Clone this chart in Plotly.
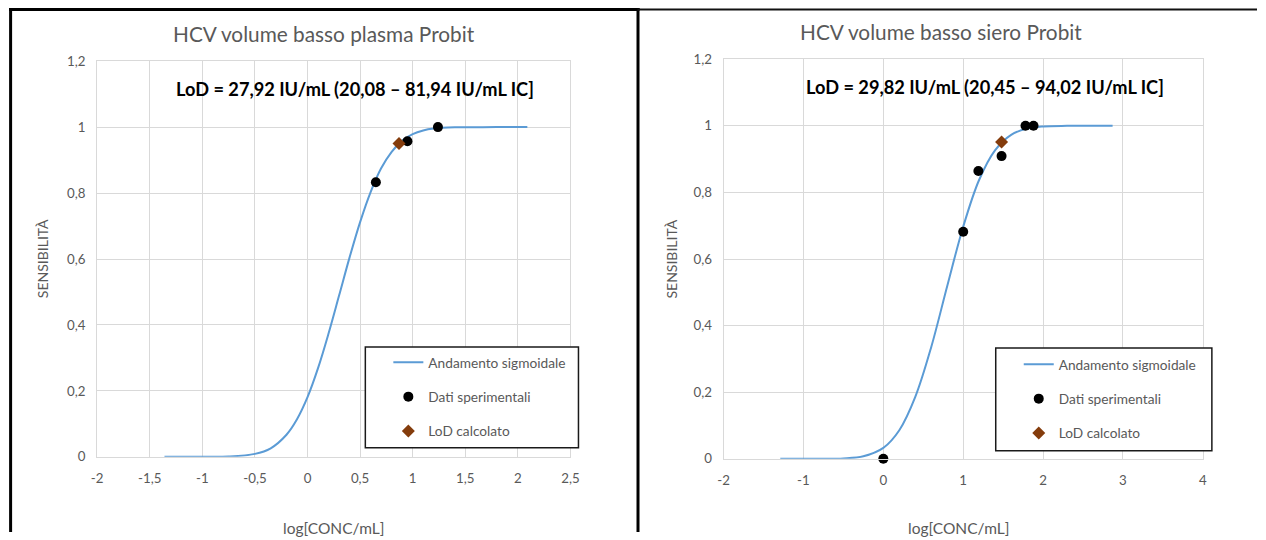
import plotly.graph_objects as go

# ---------------- data ----------------
# Left chart: plasma
plasma_curve_x = [-1.36, -1.0, -0.75, -0.5, -0.35, -0.2, -0.1, 0.0, 0.1, 0.2, 0.3, 0.4, 0.5,
                  0.6, 0.7, 0.8, 0.9, 1.0, 1.1, 1.2, 1.4, 1.6, 1.8, 2.09]
plasma_curve_y = [0.0, 0.0001, 0.0009, 0.009, 0.026, 0.067, 0.114, 0.181, 0.269, 0.374, 0.489,
                  0.605, 0.712, 0.803, 0.875, 0.925, 0.959, 0.979, 0.990, 0.9956, 0.9993, 0.9999,
                  1.0, 1.0]
plasma_data_x = [0.65, 0.95, 1.24]
plasma_data_y = [0.833, 0.957, 1.0]
plasma_lod_x = [0.87]
plasma_lod_y = [0.95]

# Right chart: serum
siero_curve_x = [-1.29, -1.0, -0.75, -0.5, -0.25, 0.0, 0.2, 0.4, 0.6, 0.8, 1.0, 1.2, 1.4, 1.6,
                 1.8, 2.0, 2.3, 2.6, 2.87]
siero_curve_y = [0.0, 0.0, 0.0002, 0.0013, 0.0078, 0.033, 0.086, 0.186, 0.336, 0.519, 0.697,
                 0.838, 0.927, 0.973, 0.9917, 0.998, 0.9998, 1.0, 1.0]
siero_data_x = [0.0, 1.0, 1.19, 1.48, 1.78, 1.88]
siero_data_y = [0.0, 0.682, 0.864, 0.909, 1.0, 1.0]
siero_lod_x = [1.48]
siero_lod_y = [0.951]

# ticks
left_xticks = [-2, -1.5, -1, -0.5, 0, 0.5, 1, 1.5, 2, 2.5]
left_xticktext = ["-2", "-1,5", "-1", "-0,5", "0", "0,5", "1", "1,5", "2", "2,5"]
right_xticks = [-2, -1, 0, 1, 2, 3, 4]
right_xticktext = ["-2", "-1", "0", "1", "2", "3", "4"]
yticks = [0, 0.2, 0.4, 0.6, 0.8, 1.0, 1.2]
yticktext = ["0", "0,2", "0,4", "0,6", "0,8", "1", "1,2"]

titles = ["HCV volume basso plasma Probit", "HCV volume basso siero Probit"]
lod_texts = ["LoD = 27,92 IU/mL (20,08 – 81,94 IU/mL IC]",
             "LoD = 29,82 IU/mL (20,45 – 94,02 IU/mL IC]"]
legend_names = ["Andamento sigmoidale", "Dati sperimentali", "LoD calcolato"]

# ---------------- style ----------------
W, H = 1266, 540
M = 8                      # page body margin
SX = (W + 2 * M) / W       # page region -> picture scale (horizontal)
SY = (H + 2 * M) / H       # (vertical)
DX = 2                     # small horizontal correction
FONT = "Lato"
GRAY = "#595959"
GRID = "#d9d9d9"
BLUE = "#5b9bd5"
BROWN = "#843c0c"

def px(x):
    """target picture x (px) -> paper fraction"""
    return min(max(((x + DX) * SX - M) / W, 0), 1)

def py(y):
    """target picture y (px, from top) -> paper fraction"""
    return min(max(1 - (y * SY - M) / H, 0), 1)

fig = go.Figure()

def add_series(cx, cy, dx, dy, lx, ly, xa, ya, leg, grp):
    fig.add_trace(go.Scatter(x=cx, y=cy, mode="lines", line=dict(color=BLUE, width=2, shape="spline"),
                             name=legend_names[0], xaxis=xa, yaxis=ya, legend=leg,
                             legendgroup=grp + "a", cliponaxis=False))
    fig.add_trace(go.Scatter(x=dx, y=dy, mode="markers", marker=dict(color="black", size=10),
                             name=legend_names[1], xaxis=xa, yaxis=ya, legend=leg,
                             legendgroup=grp + "b", cliponaxis=False))
    fig.add_trace(go.Scatter(x=lx, y=ly, mode="markers",
                             marker=dict(color=BROWN, size=10, symbol="diamond"),
                             name=legend_names[2], xaxis=xa, yaxis=ya, legend=leg,
                             legendgroup=grp + "c", cliponaxis=False))

add_series(plasma_curve_x, plasma_curve_y, plasma_data_x, plasma_data_y,
           plasma_lod_x, plasma_lod_y, "x", "y", "legend", "L")
add_series(siero_curve_x, siero_curve_y, siero_data_x, siero_data_y,
           siero_lod_x, siero_lod_y, "x2", "y2", "legend2", "R")

axis_common = dict(showgrid=True, gridcolor=GRID, gridwidth=1, zeroline=False,
                   showline=True, linecolor=GRID, linewidth=1, mirror=True, ticks="",
                   tickfont=dict(family=FONT, size=13.3, color=GRAY), fixedrange=True)

legend_common = dict(xanchor="left", yanchor="top", bgcolor="rgba(0,0,0,0)", borderwidth=0,
                     traceorder="grouped", tracegroupgap=13.5,
                     font=dict(family=FONT, size=13.7, color=GRAY))

fig.update_layout(
    width=W, height=H, margin=dict(l=0, r=0, t=0, b=0),
    paper_bgcolor="white", plot_bgcolor="white",
    font=dict(family=FONT, color=GRAY),
    xaxis=dict(domain=[px(97), px(570)], range=[-2, 2.5], tickmode="array",
               tickvals=left_xticks, ticktext=left_xticktext, anchor="y",
               ticklabelstandoff=9, **axis_common),
    yaxis=dict(domain=[py(457), py(61)], range=[0, 1.2], tickmode="array",
               tickvals=yticks, ticktext=yticktext, anchor="x",
               ticklabelstandoff=8, **axis_common),
    xaxis2=dict(domain=[px(723), px(1202)], range=[-2, 4], tickmode="array",
                tickvals=right_xticks, ticktext=right_xticktext, anchor="y2",
                ticklabelstandoff=9, **axis_common),
    yaxis2=dict(domain=[py(459), py(59)], range=[0, 1.2], tickmode="array",
                tickvals=yticks, ticktext=yticktext, anchor="x2",
                ticklabelstandoff=8, **axis_common),
    legend=dict(x=px(388), y=py(347), **legend_common),
    legend2=dict(x=px(1018), y=py(349), **legend_common),
    showlegend=True,
)

shapes = []
# legend boxes
shapes.append(dict(type="rect", xref="paper", yref="paper", x0=px(365), x1=px(578),
                   y0=py(448), y1=py(347), fillcolor="white", line=dict(color="#1a1a1a", width=1.5),
                   layer="above"))
shapes.append(dict(type="rect", xref="paper", yref="paper", x0=px(995), x1=px(1211),
                   y0=py(451), y1=py(348), fillcolor="white", line=dict(color="#1a1a1a", width=1.5),
                   layer="above"))
# panel frames
top_y = 1 - 1.5 / H
shapes.append(dict(type="line", xref="paper", yref="paper", x0=px(10.5), x1=px(10.5),
                   y0=0, y1=1, line=dict(color="black", width=3), layer="above"))
shapes.append(dict(type="line", xref="paper", yref="paper", x0=px(9), x1=px(639),
                   y0=top_y, y1=top_y, line=dict(color="black", width=3), layer="above"))
shapes.append(dict(type="line", xref="paper", yref="paper", x0=px(637.5), x1=px(637.5),
                   y0=0, y1=1, line=dict(color="black", width=3), layer="above"))
shapes.append(dict(type="line", xref="paper", yref="paper", x0=px(637), x1=1,
                   y0=top_y, y1=top_y, line=dict(color="#111111", width=2), layer="above"))
fig.update_layout(shapes=shapes)

def note(text, x, y, size, color=GRAY, angle=0):
    return dict(text=text, x=px(x), y=py(y), xref="paper", yref="paper",
                xanchor="center", yanchor="middle", showarrow=False, textangle=angle,
                font=dict(family=FONT, size=size, color=color))

ann = [
    note(titles[0], 324, 33, 20.8),
    note(titles[1], 940, 31, 20.8),
    note("<b>" + lod_texts[0] + "</b>", 355, 89, 18.2, "black"),
    note("<b>" + lod_texts[1] + "</b>", 984, 87, 18.2, "black"),
    note("SENSIBILITÀ", 42, 259, 14, angle=-90),
    note("SENSIBILITÀ", 670, 259, 14, angle=-90),
    note("log[CONC/mL]", 333, 528, 15.5),
    note("log[CONC/mL]", 958, 528, 15.5),
]
fig.update_layout(annotations=ann)

fig.write_html("out.html")
